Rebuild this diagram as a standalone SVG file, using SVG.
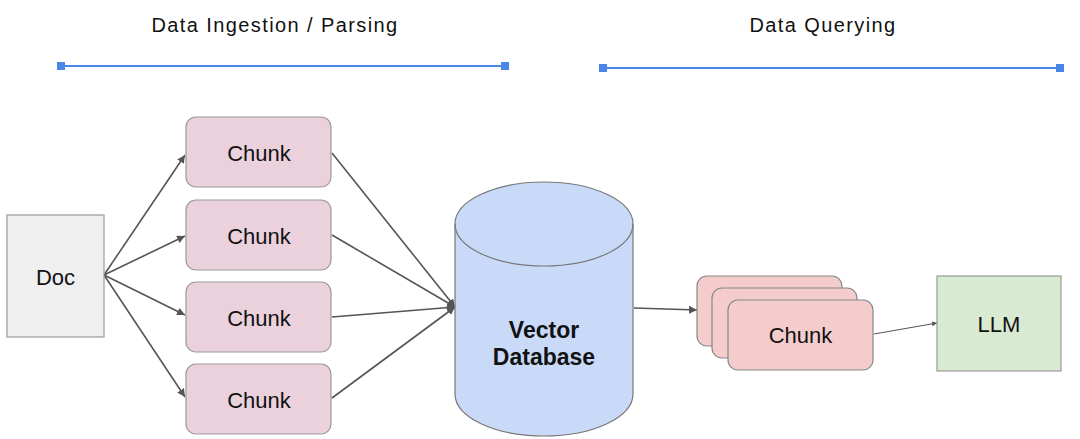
<svg xmlns="http://www.w3.org/2000/svg" width="1080" height="439" viewBox="0 0 1080 439">
<style>
.title{font-family:"Liberation Sans",Arial,sans-serif;font-size:20px;letter-spacing:1.4px;fill:#111;text-anchor:middle}
.lbl{font-family:"Liberation Sans",Arial,sans-serif;font-size:22px;fill:#111;text-anchor:middle}
.bold{font-weight:bold;font-size:23px}
.chunk{fill:#ead1dc;stroke:#999;stroke-width:1.2}
.chunk2{fill:#f4cccc;stroke:#888;stroke-width:1.2}
.conn{stroke:#555;stroke-width:1.6;fill:none;marker-end:url(#ah)}
.bar{stroke:#4a86e8;stroke-width:2}
.end{fill:#4a86e8}
</style>
<defs>
<marker id="ah" viewBox="0 0 10 10" refX="10" refY="5" markerWidth="8" markerHeight="8" markerUnits="userSpaceOnUse" orient="auto">
<path d="M0,0 L10,5 L0,10 z" fill="#555"/>
</marker>
<marker id="ahs" viewBox="0 0 10 10" refX="10" refY="5" markerWidth="5" markerHeight="5" markerUnits="userSpaceOnUse" orient="auto">
<path d="M0,0 L10,5 L0,10 z" fill="#555"/>
</marker>
</defs>
<rect width="1080" height="439" fill="#fff"/>
<g id="section-ingestion">
<text class="title" x="275" y="32">Data Ingestion / Parsing</text>
<line class="bar" x1="62" y1="66" x2="505" y2="66"/>
<rect class="end" x="57" y="62" width="8" height="8"/>
<rect class="end" x="501" y="62" width="8" height="8"/>
</g>
<g id="section-querying">
<text class="title" x="823" y="32">Data Querying</text>
<line class="bar" x1="603" y1="68" x2="1060" y2="68"/>
<rect class="end" x="599" y="64" width="8" height="8"/>
<rect class="end" x="1056" y="64" width="8" height="8"/>
</g>
<g id="connectors">
<path class="conn" d="M104,275 L185,155"/>
<path class="conn" d="M104,275 L185,236"/>
<path class="conn" d="M104,275 L185,315"/>
<path class="conn" d="M104,275 L185,397"/>
<path class="conn" d="M332,153 L455,307"/>
<path class="conn" d="M332,235 L455,307"/>
<path class="conn" d="M332,317 L455,307"/>
<path class="conn" d="M332,398 L455,307"/>
<path class="conn" d="M634,308 L697,310"/>
<path d="M874,334 L937,323" stroke="#555" stroke-width="1" fill="none" marker-end="url(#ahs)"/>
</g>
<g id="doc">
<rect x="7" y="215" width="97" height="122" fill="#efefef" stroke="#999" stroke-width="1.2"/>
<text class="lbl" x="55.5" y="285">Doc</text>
</g>
<g id="chunk1">
<rect class="chunk" x="186" y="117" width="145" height="70" rx="10"/>
<text class="lbl" x="259" y="161">Chunk</text>
</g>
<g id="chunk2">
<rect class="chunk" x="186" y="200" width="145" height="70" rx="10"/>
<text class="lbl" x="259" y="244">Chunk</text>
</g>
<g id="chunk3">
<rect class="chunk" x="186" y="282" width="145" height="70" rx="10"/>
<text class="lbl" x="259" y="326">Chunk</text>
</g>
<g id="chunk4">
<rect class="chunk" x="186" y="364" width="145" height="70" rx="10"/>
<text class="lbl" x="259" y="408">Chunk</text>
</g>
<g id="vector-db">
<path d="M455,224 L455,394 A89,42 0 0 0 633,394 L633,224 A89,42 0 0 0 455,224 Z" fill="#c9daf8" stroke="#777" stroke-width="1.2"/>
<path d="M455,224 A89,42 0 0 0 633,224" fill="none" stroke="#777" stroke-width="1.2"/>
<text class="lbl bold" x="544" y="338">Vector</text>
<text class="lbl bold" x="544" y="365">Database</text>
</g>
<g id="retrieved-chunks">
<rect class="chunk2" x="697" y="276" width="145" height="70" rx="10"/>
<rect class="chunk2" x="712" y="288" width="145" height="70" rx="10"/>
<rect class="chunk2" x="728" y="300" width="145" height="70" rx="10"/>
<text class="lbl" x="800.5" y="343">Chunk</text>
</g>
<g id="llm">
<rect x="937" y="276" width="124" height="95" fill="#d9ead3" stroke="#999" stroke-width="1.2"/>
<text class="lbl" x="999" y="332">LLM</text>
</g>
</svg>
